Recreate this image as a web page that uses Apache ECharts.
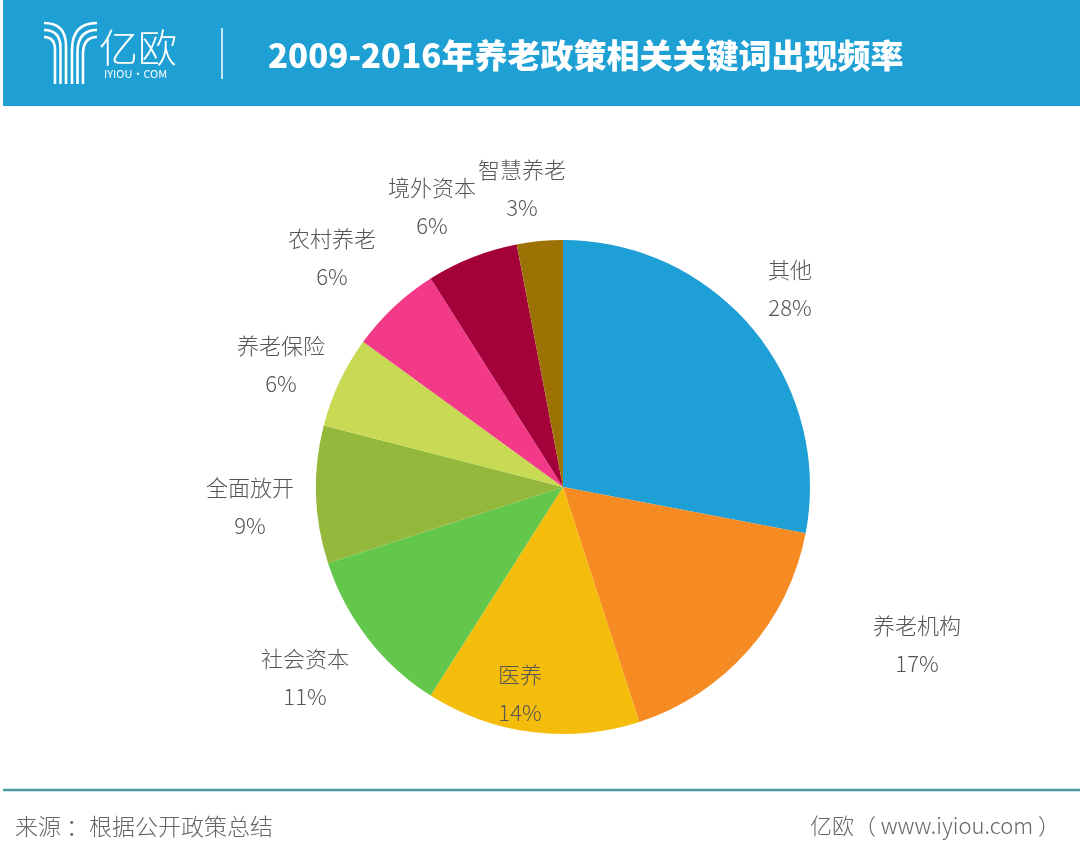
<!DOCTYPE html>
<html>
<head>
<meta charset="utf-8">
<script src="https://cdn.jsdelivr.net/npm/echarts@6/dist/echarts.min.js"></script>
<style>
html,body{margin:0;padding:0;background:#fff;}
#chart{width:1080px;height:860px;}
</style>
</head>
<body>
<div id="chart"></div>
<script>
// ---- data ----
const categories = ['其他', '养老机构', '医养', '社会资本', '全面放开', '养老保险', '农村养老', '境外资本', '智慧养老'];
const values = [28, 17, 14, 11, 9, 6, 6, 6, 3];
const colors = ['#1e9fd5', '#f68b23', '#f5bd0b', '#63c74b', '#93b83b', '#c8da53', '#f23a89', '#a4013b', '#9d7205'];
// label block centres (manually placed in the original)
const labelX = [790, 917, 520, 305, 250, 281, 332, 432, 522];
const labelY = [289, 645, 694, 678, 507, 365, 258, 207, 189];

const titleText = '2009-2016年养老政策相关关键词出现频率';
const sourceText = '来源 ：根据公开政策总结';
const siteText = '亿欧（ www.iyiou.com ）';

const chart = echarts.init(document.getElementById('chart'), null, {renderer: 'canvas'});
const font = '"Noto Sans CJK SC", "Noto Sans", sans-serif';

// logo stripes: [startX, startY, stemX, curveEndY]
const logoStripes = [
  [44, 23, 66, 46], [44, 30, 60.5, 48], [44, 37, 55, 50],
  [97, 23, 72, 50], [97, 30, 77.5, 52], [97, 37, 83, 54]
];
const logoEls = [];
logoStripes.forEach(s => {
  logoEls.push({type: 'bezierCurve', shape: {x1: s[0], y1: s[1], cpx1: s[2], cpy1: s[1], x2: s[2], y2: s[3]}, style: {stroke: '#ffffff', lineWidth: 2.6, fill: null}, z: 2});
  logoEls.push({type: 'line', shape: {x1: s[2], y1: s[3], x2: s[2], y2: 84}, style: {stroke: '#ffffff', lineWidth: 2.6}, z: 2});
});

const option = {
  backgroundColor: '#ffffff',
  animation: false,
  graphic: [
    {type: 'rect', shape: {x: 3, y: 0, width: 1077, height: 106}, style: {fill: '#1fa0d4'}, z: 0},
    ...logoEls,
    {type: 'text', x: 99, y: 28, style: {text: '亿欧', font: '300 39px ' + font, fill: '#ffffff'}, z: 2},
    {type: 'text', x: 104, y: 68, style: {text: 'IYIOU·COM', font: '11px ' + font, fill: '#ffffff'}, z: 2},
    {type: 'line', shape: {x1: 222, y1: 28, x2: 222, y2: 79}, style: {stroke: '#ffffff', lineWidth: 1.5}, z: 2},
    {type: 'text', x: 268, y: 55, style: {text: titleText, font: '900 33px ' + font, fill: '#ffffff', verticalAlign: 'middle'}, z: 2},
    {type: 'line', shape: {x1: 3, y1: 790, x2: 1080, y2: 790}, style: {stroke: '#4a9aa0', lineWidth: 2.5}, z: 2},
    {type: 'text', x: 15, y: 826, style: {text: sourceText, font: '300 23px ' + font, fill: '#666666', verticalAlign: 'middle'}, z: 2},
    {type: 'text', x: 1060, y: 826, style: {text: siteText, font: '300 22px ' + font, fill: '#666666', align: 'right', verticalAlign: 'middle'}, z: 2}
  ],
  series: [{
    type: 'pie',
    center: [563, 487],
    radius: 247,
    startAngle: 90,
    clockwise: true,
    data: categories.map((c, i) => ({name: c, value: values[i], itemStyle: {color: colors[i]}})),
    label: {
      show: true,
      position: 'outside',
      formatter: '{b}\n{c}%',
      fontFamily: font,
      fontSize: 22,
      fontWeight: 300,
      lineHeight: 38,
      color: '#555555',
      align: 'center'
    },
    labelLine: {show: false},
    labelLayout: function (params) {
      return {x: labelX[params.dataIndex], y: labelY[params.dataIndex], align: 'center', verticalAlign: 'middle', hideOverlap: false};
    },
    itemStyle: {borderWidth: 0},
    emphasis: {disabled: true}
  }]
};
chart.setOption(option);
</script>
</body>
</html>
